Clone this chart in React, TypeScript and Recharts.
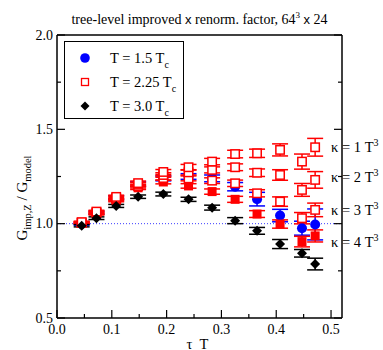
import { ScatterChart, Scatter, XAxis, YAxis, ErrorBar, ReferenceLine, Legend } from 'recharts';

// tau*T positions shared by all data sets
const tauT = [0.045, 0.072, 0.108, 0.148, 0.194, 0.24, 0.283, 0.325, 0.365, 0.407, 0.447, 0.471];

// T = 1.5 Tc
const gT15 = [0.998, 1.058, 1.138, 1.21, 1.24, 1.25, 1.24, 1.196, 1.13, 1.043, 0.976, 0.996];
const errT15 = [0.006, 0.008, 0.01, 0.012, 0.013, 0.015, 0.018, 0.022, 0.036, 0.033, 0.037, 0.082];

// T = 2.25 Tc, one set per kappa
const gK1 = [1.008, 1.064, 1.142, 1.215, 1.274, 1.299, 1.329, 1.369, 1.373, 1.391, 1.329, 1.405];
const errK1 = [0.005, 0.007, 0.009, 0.011, 0.013, 0.015, 0.017, 0.02, 0.022, 0.032, 0.04, 0.047];
const gK2 = [1.006, 1.06, 1.136, 1.207, 1.258, 1.272, 1.285, 1.299, 1.27, 1.258, 1.179, 1.232];
const errK2 = [0.005, 0.007, 0.009, 0.011, 0.012, 0.014, 0.016, 0.018, 0.02, 0.028, 0.034, 0.044];
const gK3 = [1.004, 1.056, 1.13, 1.199, 1.242, 1.24, 1.228, 1.214, 1.161, 1.117, 1.029, 1.073];
const errK3 = [0.005, 0.007, 0.008, 0.01, 0.011, 0.013, 0.015, 0.017, 0.019, 0.025, 0.03, 0.036];
const gK4 = [1.002, 1.052, 1.124, 1.19, 1.221, 1.2, 1.17, 1.129, 1.051, 0.998, 0.905, 0.935];
const errK4 = [0.005, 0.006, 0.008, 0.009, 0.01, 0.012, 0.014, 0.016, 0.018, 0.022, 0.028, 0.032];

// T = 3.0 Tc
const gT30 = [0.989, 1.029, 1.094, 1.143, 1.157, 1.129, 1.085, 1.016, 0.962, 0.892, 0.843, 0.786];
const errT30 = [0.006, 0.007, 0.008, 0.009, 0.01, 0.011, 0.013, 0.016, 0.018, 0.024, 0.02, 0.031];

const xTicks = [0, 0.05, 0.1, 0.15, 0.2, 0.25, 0.3, 0.35, 0.4, 0.45, 0.5];
const yTicks = [0.5, 0.75, 1, 1.25, 1.5, 1.75, 2];
const temps = ['1.5', '2.25', '3.0'];
const kappas = ['1', '2', '3', '4'];

const SERIF = 'Liberation Serif, Times New Roman, serif';
const SANS = 'Liberation Sans, Arial, sans-serif';
const RED = '#ff0000';
const BLUE = '#0000ff';

const points = (g: number[], err: number[]) => tauT.map((tau, i) => ({ tau, g: g[i], err: err[i] }));

const isMajor = (v: number, step: number) => Math.abs(v / step - Math.round(v / step)) < 1e-6;

// ticks point into the frame on all four sides
function BottomTick({ x, y, payload }: any) {
  const major = isMajor(payload.value, 0.1);
  return (
    <g>
      <line x1={x} x2={x} y1={y} y2={y - (major ? 8 : 4)} stroke="#000" strokeWidth={1.2} />
      {major && (
        <text x={x} y={y + 15.5} textAnchor="middle" fontFamily={SERIF} fontSize={14} fill="#000">
          {payload.value.toFixed(1)}
        </text>
      )}
    </g>
  );
}

function TopTick({ x, y, payload }: any) {
  const major = isMajor(payload.value, 0.1);
  return <line x1={x} x2={x} y1={y} y2={y + (major ? 8 : 4)} stroke="#000" strokeWidth={1.2} />;
}

function LeftTick({ x, y, payload }: any) {
  const major = isMajor(payload.value, 0.5);
  return (
    <g>
      <line x1={x} x2={x + (major ? 8 : 4)} y1={y} y2={y} stroke="#000" strokeWidth={1.2} />
      {major && (
        <text x={x - 4} y={y + 4.5} textAnchor="end" fontFamily={SERIF} fontSize={14} fill="#000">
          {payload.value.toFixed(1)}
        </text>
      )}
    </g>
  );
}

function RightTick({ x, y, payload }: any) {
  const major = isMajor(payload.value, 0.5);
  return <line x1={x} x2={x - (major ? 8 : 4)} y1={y} y2={y} stroke="#000" strokeWidth={1.2} />;
}

const renderTitle = () => (
  <text x={199.5} y={23.5} textAnchor="middle" fontFamily={SERIF} fontSize={14} fill="#000">
    tree-level improved <tspan fontFamily={SANS} fontSize={13}>x</tspan> renorm. factor, 64
    <tspan dy={-6} fontSize={9}>3</tspan>
    <tspan dy={6}>{'\u00a0'}</tspan>
    <tspan fontFamily={SANS} fontSize={13}>x</tspan> 24
  </text>
);

const renderXLabel = () => (
  <text x={197.5} y={348.5} textAnchor="middle" fontFamily={SERIF} fontSize={14.5} fill="#000">
    {'\u03c4\u00a0\u00a0T'}
  </text>
);

const renderYLabel = () => (
  <text transform="translate(27,198) rotate(-90)" textAnchor="middle" fontFamily={SERIF} fontSize={15} fill="#000">
    G<tspan dy={4} fontSize={10.5}>imp,Z</tspan>
    <tspan dy={-4}>{'\u00a0/ G'}</tspan>
    <tspan dy={4} fontSize={10.5}>model</tspan>
  </text>
);

const BlueCircle = ({ cx, cy }: any) => <circle cx={cx} cy={cy} r={5} fill={BLUE} />;
const OpenSquare = ({ cx, cy }: any) => (
  <rect x={cx - 4.2} y={cy - 4.2} width={8.4} height={8.4} fill="#fff" stroke={RED} strokeWidth={1.5} />
);
const FilledSquare = ({ cx, cy }: any) => <rect x={cx - 4.5} y={cy - 4.5} width={9} height={9} fill={RED} />;
const Diamond = ({ cx, cy }: any) => (
  <polygon points={`${cx},${cy - 5} ${cx + 5},${cy} ${cx},${cy + 5} ${cx - 5},${cy}`} fill="#000" />
);

const legendMarkers = [
  <circle cx={21} cy={12} r={4.8} fill={BLUE} />,
  <rect x={17.5} y={8.5} width={7} height={7} fill="#fff" stroke={RED} strokeWidth={1.3} />,
  <polygon points="21,7.5 25.5,12 21,16.5 16.5,12" fill="#000" />,
];

function LegendBox() {
  return (
    <div
      style={{
        width: 120,
        height: 78,
        border: '1px solid #000',
        background: '#fff',
        boxSizing: 'border-box',
        position: 'relative',
        fontFamily: SERIF,
        fontSize: 14.5,
        color: '#000',
      }}
    >
      {temps.map((t, i) => (
        <div
          key={t}
          style={{ position: 'absolute', left: -1, top: 4 + i * 24, height: 24, display: 'flex', alignItems: 'center' }}
        >
          <svg width={42} height={24}>{legendMarkers[i]}</svg>
          <span style={{ marginLeft: 4, whiteSpace: 'nowrap' }}>
            T = {t} T<span style={{ fontSize: 10, position: 'relative', top: 5 }}>c</span>
          </span>
        </div>
      ))}
    </div>
  );
}

const kappaTop = [139, 169, 202, 234];

export default function App() {
  const errBar = (color: string) => (
    <ErrorBar dataKey="err" direction="y" width={8} stroke={color} strokeWidth={1.5} isAnimationActive={false} />
  );

  return (
    <div style={{ position: 'absolute', left: 0, top: 0, width: 383, height: 350, background: '#fff' }}>
      <ScatterChart width={383} height={350} margin={{ top: 0, right: 0, bottom: 0, left: 0 }}>
        <XAxis
          type="number"
          dataKey="tau"
          domain={[0, 0.52]}
          allowDataOverflow
          ticks={xTicks}
          interval={0}
          height={32}
          tickSize={0}
          tickMargin={0}
          tick={BottomTick}
          axisLine={{ stroke: '#000', strokeWidth: 1.5 }}
          label={renderXLabel}
        />
        <XAxis
          xAxisId="top"
          orientation="top"
          type="number"
          domain={[0, 0.52]}
          allowDataOverflow
          ticks={xTicks}
          interval={0}
          height={35}
          tickSize={0}
          tickMargin={0}
          tick={TopTick}
          axisLine={{ stroke: '#000', strokeWidth: 1.5 }}
          label={renderTitle}
        />
        <YAxis
          type="number"
          dataKey="g"
          domain={[0.5, 2]}
          allowDataOverflow
          ticks={yTicks}
          interval={0}
          width={57}
          tickSize={0}
          tickMargin={0}
          tick={LeftTick}
          axisLine={{ stroke: '#000', strokeWidth: 1.5 }}
          label={renderYLabel}
        />
        <YAxis
          yAxisId="right"
          orientation="right"
          type="number"
          domain={[0.5, 2]}
          allowDataOverflow
          ticks={yTicks}
          interval={0}
          width={41}
          tickSize={0}
          tickMargin={0}
          tick={RightTick}
          axisLine={{ stroke: '#000', strokeWidth: 1.5 }}
        />
        <ReferenceLine y={1} stroke="#3c3cff" strokeWidth={1} strokeDasharray="1 2" />

        <Scatter data={points(gT15, errT15)} shape={BlueCircle} isAnimationActive={false}>
          {errBar(BLUE)}
        </Scatter>
        <Scatter data={points(gK4, errK4)} shape={FilledSquare} isAnimationActive={false}>
          {errBar(RED)}
        </Scatter>
        <Scatter data={points(gK3, errK3)} shape={OpenSquare} isAnimationActive={false}>
          {errBar(RED)}
        </Scatter>
        <Scatter data={points(gK2, errK2)} shape={OpenSquare} isAnimationActive={false}>
          {errBar(RED)}
        </Scatter>
        <Scatter data={points(gK1, errK1)} shape={OpenSquare} isAnimationActive={false}>
          {errBar(RED)}
        </Scatter>
        <Scatter data={points(gT30, errT30)} shape={Diamond} isAnimationActive={false}>
          {errBar('#000')}
        </Scatter>

        <Legend
          layout="vertical"
          align="center"
          verticalAlign="middle"
          content={() => <LegendBox />}
          wrapperStyle={{ left: 64, top: 41, width: 120, height: 78 }}
        />
      </ScatterChart>

      {kappas.map((k, i) => (
        <div
          key={k}
          style={{
            position: 'absolute',
            left: 331,
            top: kappaTop[i],
            fontFamily: SERIF,
            fontSize: 14.5,
            lineHeight: '16px',
            whiteSpace: 'nowrap',
            color: '#000',
          }}
        >
          {'\u03ba'} = {k} T<span style={{ fontSize: 10, position: 'relative', top: -6 }}>3</span>
        </div>
      ))}
    </div>
  );
}
